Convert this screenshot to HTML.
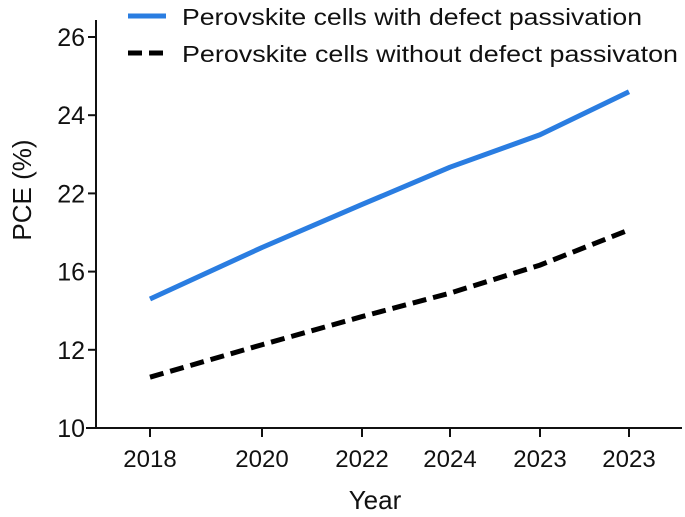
<!DOCTYPE html>
<html><head><meta charset="utf-8"><style>
html,body{margin:0;padding:0;background:#fff;}
svg{display:block;font-family:"Liberation Sans",sans-serif;}
</style></head><body>
<svg id="chart" width="685" height="517">
<g id="axes"></g><g id="series"></g>
<g>
<line x1="128" y1="16" x2="166" y2="16" stroke="#2a7de1" stroke-width="5"/>
<text x="182" y="25" font-size="23" textLength="460" lengthAdjust="spacingAndGlyphs" fill="#111">Perovskite cells with defect passivation</text>
<line x1="128" y1="53" x2="166" y2="53" stroke="#000" stroke-width="5" stroke-dasharray="14,7"/>
<text x="182" y="62" font-size="23" textLength="496" lengthAdjust="spacingAndGlyphs" fill="#111">Perovskite cells without defect passivaton</text>
</g>
<text x="375" y="509" font-size="26" text-anchor="middle" fill="#111">Year</text>
<text transform="translate(31,190) rotate(-90)" font-size="26" text-anchor="middle" fill="#111">PCE (%)</text>
</svg>
<script>
const categories = ["2018","2020","2022","2024","2023","2023"];
const yTicks = [10,12,16,22,24,26];
const withPassivation = [14.6,17.85,21.15,22.67,23.5,24.6];
const withoutPassivation = [11.3,12.26,13.7,14.9,16.5,19.2];

const NS="http://www.w3.org/2000/svg";
const xPos=[150,262,362,450,540,629];
function xScale(i){return xPos[i];}
const yTop=37,yBot=428;
function yScale(v){
  const step=(yBot-yTop)/(yTicks.length-1);
  for(let k=0;k<yTicks.length-1;k++){
    if(v<=yTicks[k+1]||k===yTicks.length-2){
      const f=(v-yTicks[k])/(yTicks[k+1]-yTicks[k]);
      return yBot-(k+f)*step;
    }
  }
}
function mk(tag,attrs,parent){const e=document.createElementNS(NS,tag);for(const a in attrs)e.setAttribute(a,attrs[a]);parent.appendChild(e);return e;}
const axes=document.getElementById('axes');
const yl=mk('line',{x1:96,y1:20,x2:96,y2:429,stroke:'#111','stroke-width':2},axes);


const xl=mk('line',{x1:86,y1:428,x2:682,y2:428,stroke:'#111','stroke-width':2},axes);


yTicks.forEach((t,i)=>{
  const y=yBot-i*(yBot-yTop)/(yTicks.length-1);
  const tk=mk('line',{x1:88,y1:y,x2:96,y2:y,stroke:'#111','stroke-width':2},axes);
  
  
  const tx=mk('text',{x:85,y:y+9,'font-size':25,'text-anchor':'end',fill:'#111'},axes);
  tx.textContent=t;
  
  
});
categories.forEach((c,i)=>{
  const x=xScale(i);
  const tk=mk('line',{x1:x,y1:428,x2:x,y2:437,stroke:'#111','stroke-width':2},axes);
  
  
  const tx=mk('text',{x:x,y:467,'font-size':24,'text-anchor':'middle',fill:'#111'},axes);
  tx.textContent=c;
  
  
});
const series=document.getElementById('series');
function pts(arr){return arr.map((v,i)=>xScale(i)+','+yScale(v)).join(' ');}
const l1=mk('polyline',{points:pts(withPassivation),fill:'none',stroke:'#2a7de1','stroke-width':5,'stroke-linejoin':'round'},series);


const l2=mk('polyline',{points:pts(withoutPassivation),fill:'none',stroke:'#000','stroke-width':5,'stroke-dasharray':'14,7'},series);


</script>
</body></html>
